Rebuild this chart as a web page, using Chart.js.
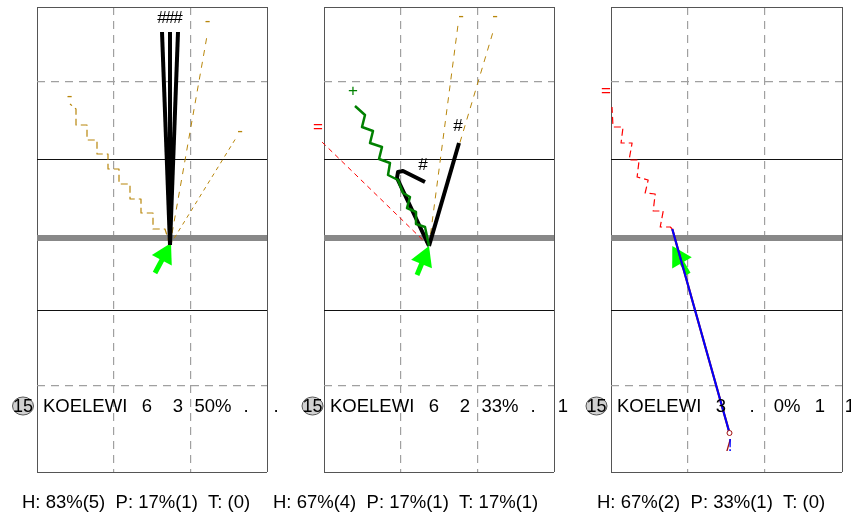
<!DOCTYPE html>
<html>
<head>
<meta charset="utf-8">
<script src="https://cdn.jsdelivr.net/npm/chart.js@4.4.1/dist/chart.umd.min.js"></script>
<style>
  html, body { margin: 0; padding: 0; background: #fff; }
  #wrap { position: relative; width: 851px; height: 528px; overflow: hidden; }
  #wrap canvas { position: absolute; left: 0; top: 0; }
</style>
</head>
<body>
<div id="wrap">
  <canvas id="panel0" width="851" height="528"></canvas>
  <canvas id="panel1" width="851" height="528"></canvas>
  <canvas id="panel2" width="851" height="528"></canvas>
</div>
<script>
/*
 * Data (x = units from the left of a panel, y = from its bottom)
 */
const xLines = [0, 76.7, 153.3, 230];
const xLineKinds = ['edge', 'dash', 'dash', 'edge'];
const yLines = [0, 86, 162, 234.5, 313, 390, 465];
const yLineKinds = ['edge', 'dash', 'solid', 'base', 'solid', 'dash', 'edge'];

const playerNo = '15';
const playerName = 'KOELEWI';

// Panel 1
const p1Cells = ['6', '3', '50%', '.', '.'];
const p1Summary = 'H: 83%(5)  P: 17%(1)  T: (0)';
const p1ArrowTail = [118, 199];
const p1ArrowTip = [134, 229];
const p1BlackA = [[133, 227], [125, 440]];
const p1BlackB = [[133, 227], [133, 440]];
const p1BlackC = [[133, 227], [141, 440]];
const p1BlackTags = [['#', 125, 453.5], ['#', 133, 453.5], ['#', 141, 453.5]];
const p1GoldZig = [[133, 227], [128, 243], [116, 243], [116, 259], [104, 259], [104, 273], [93, 273],
    [93, 288], [82, 288], [82, 303], [71, 303], [71, 318], [60, 318], [60, 332], [50, 332],
    [50, 347], [39, 347], [39, 363], [33, 368]];
const p1GoldZigTags = [['-', 32.5, 376]];
const p1GoldA = [[133, 227], [170, 436]];
const p1GoldATags = [['-', 170.5, 451]];
const p1GoldB = [[133, 227], [199, 334]];
const p1GoldBTags = [['-', 203, 341]];

// Panel 2
const p2Cells = ['6', '2', '33%', '.', '1'];
const p2Summary = 'H: 67%(4)  P: 17%(1)  T: 17%(1)';
const p2ArrowTail = [93, 197];
const p2ArrowTip = [105, 226];
const p2BlackA = [[105, 226], [135, 329]];
const p2BlackATags = [['#', 134, 346]];
const p2BlackB = [[105, 226], [73, 294], [74, 300], [79, 301], [101, 290]];
const p2BlackBTags = [['#', 99, 307]];
const p2GreenWave = [[105, 226], [101, 245], [92, 248], [92, 260], [83, 264], [86, 275], [79, 279],
    [74, 292], [64, 297], [66, 309], [55, 313], [58, 325], [46, 329], [49, 341], [38, 345],
    [41, 357], [31, 366]];
const p2GreenTags = [['+', 29, 381]];
const p2Red = [[105, 226], [-2, 330]];
const p2RedTags = [['=', -6, 345]];
const p2GoldA = [[105, 226], [134, 447]];
const p2GoldATags = [['-', 137, 456]];
const p2GoldB = [[105, 226], [169, 440]];
const p2GoldBTags = [['-', 171, 456]];

// Panel 3
const p3Cells = ['3', '.', '0%', '1', '1'];
const p3Summary = 'H: 67%(2)  P: 33%(1)  T: (0)';
const p3ArrowTail = [77, 198];
const p3ArrowTip = [61, 226];
const p3RedZig = [[61, 243], [59, 245], [49, 245], [52, 261], [42, 261], [44, 278], [34, 279],
    [37, 292], [26, 295], [28, 312], [18, 312], [21, 329], [10, 329], [12, 345], [2, 345], [1, 365]];
const p3RedZigTags = [['=', -5, 381]];
const p3Ground = [[61, 243], [118, 39]];
const p3Stop = [[118, 39]];
const p3StopTags = [['/', 117, 26]];
const p3GroundTags = [['!', 118.5, 26]];

/*
 * Styles
 */
const gold = '#b8860b';
const font = '"Liberation Sans", Arial, sans-serif';
const lineStyle = {
    edge: {color: '#555555', width: 1, dash: []},
    dash: {color: '#a0a0a0', width: 1.2, dash: [8, 6]},
    solid: {color: '#111111', width: 1, dash: []},
    base: {color: '#888888', width: 6, dash: []}
};
// text columns, measured from the left edge of each box
const cellCenters = [110, 141, 176, 209, 239];

function pts(arr) {
    return arr.map(p => ({x: p[0], y: p[1]}));
}

function lineSet(points, color, width, dash, tags, tagColor) {
    return {
        data: pts(points),
        borderColor: color,
        borderWidth: width,
        borderDash: dash || [],
        borderJoinStyle: 'round',
        borderCapStyle: 'butt',
        pointRadius: 0,
        tension: 0,
        fill: false,
        clip: false,
        tags: tags || [],
        tagColor: tagColor || color
    };
}

// Green arrow = thick shaft + rotated triangle point
function arrowSets(tail, tip) {
    const r = 13;
    const dx = tip[0] - tail[0];
    const dy = tip[1] - tail[1];
    const len = Math.sqrt(dx * dx + dy * dy);
    const c = [tip[0] - dx / len * r, tip[1] - dy / len * r];
    const head = {
        data: pts([c]),
        showLine: false,
        pointStyle: 'triangle',
        pointRadius: r,
        rotation: Math.atan2(dx, dy) * 180 / Math.PI,
        pointBackgroundColor: '#00ff00',
        pointBorderColor: '#00ff00',
        pointBorderWidth: 0,
        clip: false
    };
    return [head, lineSet([tail, c], '#00ff00', 5)];
}

const panels = [
    {
        left: 37, right: 267, badgeX: 23, summaryX: 22,
        cells: p1Cells, summary: p1Summary,
        datasets: [
            lineSet(p1BlackA, '#000', 4, [], p1BlackTags.slice(0, 1)),
            lineSet(p1BlackB, '#000', 4, [], p1BlackTags.slice(1, 2)),
            lineSet(p1BlackC, '#000', 4, [], p1BlackTags.slice(2, 3)),
            lineSet(p1GoldZig, gold, 1.2, [7, 4], p1GoldZigTags),
            lineSet(p1GoldA, gold, 1, [6, 6], p1GoldATags),
            lineSet(p1GoldB, gold, 1, [4, 4], p1GoldBTags)
        ].concat(arrowSets(p1ArrowTail, p1ArrowTip))
    },
    {
        left: 324, right: 554, badgeX: 312.5, summaryX: 273,
        cells: p2Cells, summary: p2Summary,
        datasets: [
            lineSet(p2GreenWave, '#008000', 2.5, [], p2GreenTags),
            lineSet(p2BlackA, '#000', 4, [], p2BlackATags),
            lineSet(p2BlackB, '#000', 4, [], p2BlackBTags),
            lineSet(p2Red, '#ff0000', 1, [5, 4], p2RedTags),
            lineSet(p2GoldA, gold, 1, [6, 6], p2GoldATags),
            lineSet(p2GoldB, gold, 1, [6, 6], p2GoldBTags)
        ].concat(arrowSets(p2ArrowTail, p2ArrowTip))
    },
    {
        left: 611, right: 842, badgeX: 596.5, summaryX: 597,
        cells: p3Cells, summary: p3Summary,
        datasets: [
            {
                data: pts(p3Stop), showLine: false, pointStyle: 'circle', pointRadius: 2.5,
                pointBorderColor: '#a01010', pointBackgroundColor: '#fff', pointBorderWidth: 1,
                clip: false, tags: p3StopTags, tagColor: '#a01010'
            },
            lineSet(p3Ground, '#0000ff', 2, [], p3GroundTags),
            lineSet(p3Ground, '#a01010', 2.2),
            lineSet(p3RedZig, '#ff0000', 1.2, [7, 4], p3RedZigTags)
        ].concat(arrowSets(p3ArrowTail, p3ArrowTip))
    }
];

// Labels at the ends of the hit paths
const tagPlugin = {
    id: 'hitTags',
    afterDatasetsDraw(chart) {
        const {ctx} = chart;
        const xs = chart.scales.x;
        const ys = chart.scales.y;
        ctx.save();
        ctx.font = '17px ' + font;
        ctx.textAlign = 'center';
        ctx.textBaseline = 'middle';
        chart.data.datasets.forEach(ds => {
            (ds.tags || []).forEach(t => {
                ctx.fillStyle = ds.tagColor;
                ctx.fillText(t[0], xs.getPixelForValue(t[1]), ys.getPixelForValue(t[2]));
            });
        });
        ctx.restore();
    }
};

// Player row + summary line under every box
const rowPlugin = {
    id: 'playerRow',
    afterDraw(chart, args, opts) {
        const {ctx, chartArea} = chart;
        const p = opts.panel;
        const rowY = 406;
        ctx.save();
        // number badge
        ctx.beginPath();
        ctx.ellipse(p.badgeX, rowY, 10.5, 9, 0, 0, Math.PI * 2);
        ctx.fillStyle = '#d0d0d0';
        ctx.fill();
        ctx.strokeStyle = '#555';
        ctx.lineWidth = 1;
        ctx.stroke();
        ctx.fillStyle = '#000';
        ctx.font = '18px ' + font;
        ctx.textBaseline = 'middle';
        ctx.textAlign = 'center';
        ctx.fillText(playerNo, p.badgeX, rowY + 1);

        ctx.font = '18.5px ' + font;
        ctx.textBaseline = 'alphabetic';
        ctx.textAlign = 'left';
        ctx.fillText(playerName, chartArea.left + 6, 412);
        ctx.textAlign = 'center';
        p.cells.forEach((c, i) => {
            ctx.fillText(c, chartArea.left + cellCenters[i], 412);
        });

        ctx.textAlign = 'left';
        ctx.fillText(p.summary, p.summaryX, 508);
        ctx.restore();
    }
};

function gridOpts(kinds) {
    return {
        color: c => lineStyle[kinds[c.index]].color,
        lineWidth: c => lineStyle[kinds[c.index]].width,
        drawTicks: false
    };
}

function setupPanel(canvasId, p) {
    const ctx = document.getElementById(canvasId);
    new Chart(ctx, {
        type: 'line',
        data: {datasets: p.datasets},
        options: {
            responsive: false,
            animation: false,
            events: [],
            layout: {
                autoPadding: false,
                padding: {left: p.left, right: 851 - p.right, top: 7, bottom: 56}
            },
            plugins: {
                legend: {display: false},
                tooltip: {enabled: false},
                playerRow: {panel: p}
            },
            scales: {
                x: {
                    type: 'linear',
                    min: xLines[0],
                    max: xLines[xLines.length - 1],
                    afterBuildTicks: s => { s.ticks = xLines.map(v => ({value: v})); },
                    ticks: {display: false},
                    grid: gridOpts(xLineKinds),
                    border: {display: false, dash: c => lineStyle[xLineKinds[c.index]].dash}
                },
                y: {
                    type: 'linear',
                    min: yLines[0],
                    max: yLines[yLines.length - 1],
                    afterBuildTicks: s => { s.ticks = yLines.map(v => ({value: v})); },
                    ticks: {display: false},
                    grid: gridOpts(yLineKinds),
                    border: {display: false, dash: c => lineStyle[yLineKinds[c.index]].dash}
                }
            }
        },
        plugins: [tagPlugin, rowPlugin]
    });
}

panels.forEach((p, i) => setupPanel('panel' + i, p));
</script>
</body>
</html>
